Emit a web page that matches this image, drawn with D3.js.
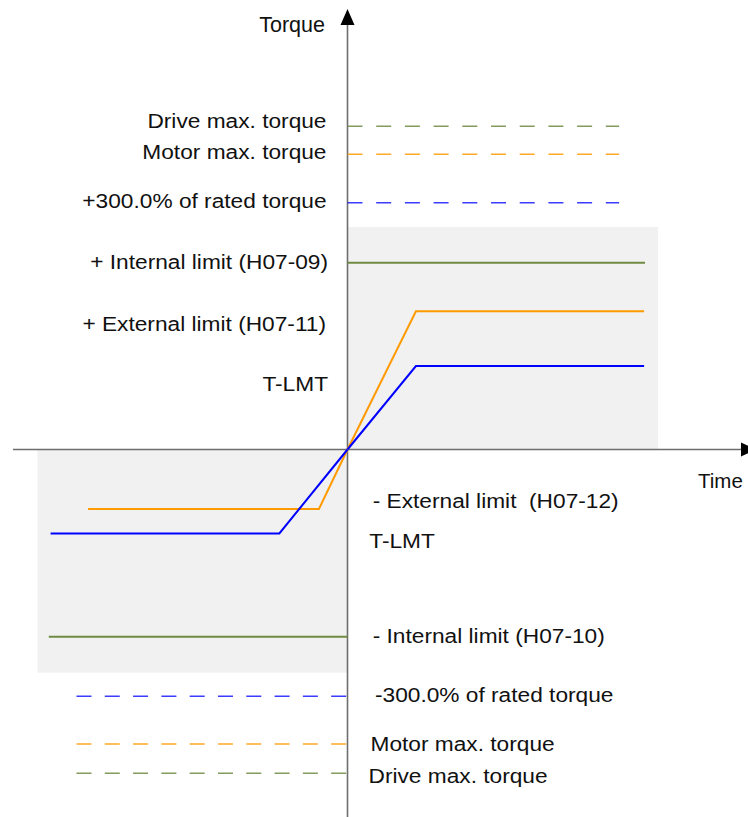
<!DOCTYPE html>
<html>
<head>
<meta charset="utf-8">
<script src="https://cdn.jsdelivr.net/npm/d3@7"></script>
<style>
  body { margin: 0; background: #fff; }
  text { font-family: "Liberation Sans", Arial, sans-serif; fill: #111; white-space: pre; }
</style>
</head>
<body>
<script>
// torque in % of rated torque, time in arbitrary units (0 = origin)
var upperDashedLabels = ['Drive max. torque', 'Motor max. torque', '+300.0% of rated torque'],
  upperDashedValues = [393, 359, 300],
  lowerDashedLabels = ['-300.0% of rated torque', 'Motor max. torque', 'Drive max. torque'],
  lowerDashedValues = [-300, -358, -393.5],
  dashedKeys = ['drive', 'motor', 'rated'],
  lowerDashedKeys = ['rated', 'motor', 'drive'];

var upperDashedSpan = [0, 91.3],
  lowerDashedSpan = [-91.1, 0];

var internalPos = [[0, 227], [100, 227]],
  externalPos = [[0, 0], [23, 168], [99.7, 168]],
  tlmtPos = [[0, 0], [23, 101.5], [99.7, 101.5]],
  externalNeg = [[0, 0], [-9.6, -72.3], [-87.2, -72.3]],
  tlmtNeg = [[0, 0], [-22.9, -102], [-99.8, -102]],
  internalNeg = [[0, -227.5], [-100.4, -227.5]];

var shadePos = {t0: 0, t1: 104.4, v0: 0, v1: 270.5},
  shadeNeg = {t0: -104.2, t1: 0, v0: -271.3, v1: 0};

var upperLabels = ['+ Internal limit (H07-09)', '+ External limit (H07-11)', 'T-LMT'],
  upperLabelValues = [227, 168, 101.5],
  lowerLabels = ['- External limit  (H07-12)', 'T-LMT', '- Internal limit (H07-10)'],
  lowerLabelValues = [-72.3, -102, -227.5];

var colors = {drive: '#6f8a42', motor: '#ff9a00', rated: '#1a1aff', internal: '#6f8a42', external: '#ff9a00', tlmt: '#0000ff'};

var width = 748, height = 817;

var x = d3.scaleLinear().domain([0, 100]).range([347.5, 645]),
  y = d3.scaleLinear().domain([0, 300]).range([449.5, 202.7]);

var svg = d3.select('body').append('svg')
  .attr('width', width)
  .attr('height', height);

// shaded regions
[shadePos, shadeNeg].forEach(function(s) {
  svg.append('rect')
    .attr('x', x(s.t0))
    .attr('y', y(s.v1))
    .attr('width', x(s.t1) - x(s.t0))
    .attr('height', y(s.v0) - y(s.v1))
    .attr('fill', '#f1f1f1');
});

// axes
svg.append('line')
  .attr('x1', 13).attr('x2', 742)
  .attr('y1', y(0)).attr('y2', y(0))
  .attr('stroke', '#6e6e6e').attr('stroke-width', 1.6);
svg.append('line')
  .attr('x1', x(0)).attr('x2', x(0))
  .attr('y1', 22).attr('y2', height)
  .attr('stroke', '#6e6e6e').attr('stroke-width', 1.6);
svg.append('path')
  .attr('d', 'M' + x(0) + ',9 L' + (x(0) - 7) + ',25 L' + (x(0) + 7) + ',25 Z')
  .attr('fill', '#000');
svg.append('path')
  .attr('d', 'M756,' + y(0) + ' L741,' + (y(0) - 7) + ' L741,' + (y(0) + 7) + ' Z')
  .attr('fill', '#000');

svg.append('text')
  .attr('x', 325).attr('y', 31.5)
  .attr('text-anchor', 'end')
  .style('font-size', '21.5px')
  .text('Torque');
svg.append('text')
  .attr('x', 698).attr('y', 488)
  .style('font-size', '20.5px')
  .text('Time');

// dashed reference levels
function dashed(values, keys, span, dash) {
  values.forEach(function(v, i) {
    svg.append('line')
      .attr('x1', x(span[0])).attr('x2', x(span[1]))
      .attr('y1', y(v)).attr('y2', y(v))
      .attr('stroke', colors[keys[i]])
      .attr('stroke-width', 1.5)
      .attr('stroke-opacity', 0.85)
      .attr('stroke-dasharray', dash);
  });
}
dashed(upperDashedValues, dashedKeys, upperDashedSpan, '15,13.7');
dashed(lowerDashedValues, lowerDashedKeys, lowerDashedSpan, '15,13.3');

// limit curves
var line = d3.line()
  .x(function(d) { return x(d[0]); })
  .y(function(d) { return y(d[1]); });

[[internalPos, 'internal'], [externalPos, 'external'], [tlmtPos, 'tlmt'],
 [internalNeg, 'internal'], [externalNeg, 'external'], [tlmtNeg, 'tlmt']].forEach(function(c) {
  svg.append('path')
    .datum(c[0])
    .attr('d', line)
    .attr('fill', 'none')
    .attr('stroke', colors[c[1]])
    .attr('stroke-width', 2);
});

// labels (glyphs are horizontally stretched in the original)
function label(txt, px, py, anchor) {
  svg.append('text')
    .attr('transform', 'translate(' + px + ',' + py + ') scale(1.17,1)')
    .attr('text-anchor', anchor)
    .style('font-size', '19.4px')
    .text(txt);
}

var upperDashedDy = [2.3, 5.3, 5],
  lowerDashedDy = [6, 7.4, 10],
  lowerDashedX = [375, 370.5, 368.5];
upperDashedLabels.forEach(function(t, i) { label(t, 326.5, y(upperDashedValues[i]) + upperDashedDy[i], 'end'); });
lowerDashedLabels.forEach(function(t, i) { label(t, lowerDashedX[i], y(lowerDashedValues[i]) + lowerDashedDy[i], 'start'); });

var upperDy = [6.6, 19.8, 24.7],
  upperX = [328, 326, 328],
  lowerDy = [-0.7, 15, 6.6],
  lowerX = [372.7, 369.3, 372.7];
upperLabels.forEach(function(t, i) { label(t, upperX[i], y(upperLabelValues[i]) + upperDy[i], 'end'); });
lowerLabels.forEach(function(t, i) { label(t, lowerX[i], y(lowerLabelValues[i]) + lowerDy[i], 'start'); });
</script>
</body>
</html>
